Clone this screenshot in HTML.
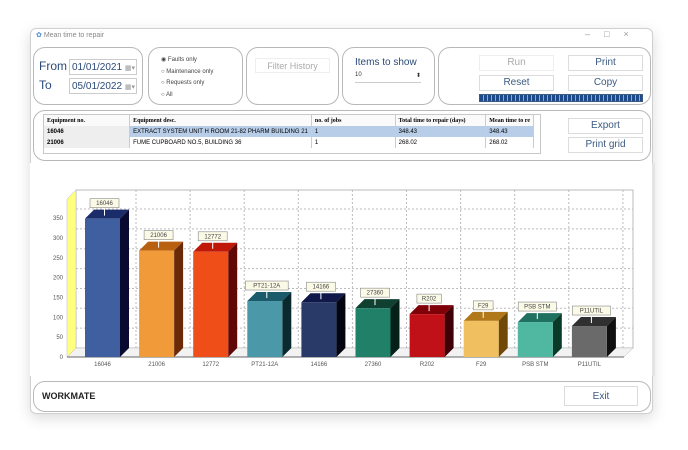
<!DOCTYPE html>
<html><head><meta charset="utf-8"><style>
body{margin:0;width:688px;height:450px;background:#fff;position:relative;overflow:hidden;font-family:"Liberation Sans",sans-serif;}
.abs{position:absolute;box-sizing:border-box;}
.win{left:30px;top:28px;width:623px;height:386px;border:1px solid #d0d0d0;border-radius:6px;background:#fff;box-shadow:0 4px 14px rgba(0,0,0,0.15);}
.panel{border:1px solid #b8b8b8;border-radius:12px;background:#fff;}
.btn{border:1px solid #dcdcdc;background:#fff;color:#3a5a80;font-size:10px;text-align:center;line-height:14px;}
.lbl{color:#2a4a78;}
.tbl td{font-size:6px;padding:0 3px;height:11px;border-right:1px solid #ccc;white-space:nowrap;overflow:hidden;}
</style></head><body>
<div class="abs win"></div>
<div class="abs" style="left:36px;top:31px;font-size:7px;color:#888"><span style="color:#4a8ad0">✿</span> Mean time to repair</div>
<div class="abs" style="left:585px;top:29px;font-size:9px;color:#999;letter-spacing:14px">–□×</div>

<div class="abs panel" style="left:33px;top:47px;width:110px;height:58px"></div>
<div class="abs lbl" style="left:39px;top:59px;font-size:12px">From</div>
<div class="abs lbl" style="left:39px;top:78px;font-size:12px">To</div>
<div class="abs" style="left:69px;top:59px;width:68px;height:16px;border:1px solid #ccc;font-size:10px;color:#2a4a78;padding:2px 0 0 2px">01/01/2021 <span style="color:#999;font-size:7px">▦▾</span></div>
<div class="abs" style="left:69px;top:78px;width:68px;height:16px;border:1px solid #ccc;font-size:10px;color:#2a4a78;padding:2px 0 0 2px">05/01/2022 <span style="color:#999;font-size:7px">▦▾</span></div>

<div class="abs panel" style="left:148px;top:47px;width:95px;height:58px"></div>
<div class="abs" style="left:161px;top:55px;font-size:6px;color:#444;line-height:11.5px">◉ Faults only<br>○ Maintenance only<br>○ Requests only<br>○ All</div>

<div class="abs panel" style="left:246px;top:47px;width:93px;height:58px"></div>
<div class="abs" style="left:255px;top:58px;width:75px;height:15px;border:1px solid #eee;font-size:9px;color:#aaa;text-align:center;line-height:15px">Filter History</div>

<div class="abs panel" style="left:342px;top:47px;width:93px;height:58px"></div>
<div class="abs lbl" style="left:355px;top:57px;font-size:10px">Items to show</div>
<div class="abs" style="left:355px;top:72px;width:66px;height:11px;border-bottom:1px solid #ccc;font-size:6px;color:#333">10<span style="float:right">⬍</span></div>

<div class="abs panel" style="left:438px;top:47px;width:213px;height:58px"></div>
<div class="abs btn" style="left:479px;top:55px;width:75px;height:16px;color:#aaa;border-color:#eee">Run</div>
<div class="abs btn" style="left:568px;top:55px;width:75px;height:16px">Print</div>
<div class="abs btn" style="left:479px;top:75px;width:75px;height:16px">Reset</div>
<div class="abs btn" style="left:568px;top:75px;width:75px;height:16px">Copy</div>
<div class="abs" style="left:479px;top:94px;width:164px;height:8px;border:1px solid #3a5a80;background:repeating-linear-gradient(90deg,#1f4a8a 0 3px,#8aa8d0 3px 4px)"></div>

<div class="abs panel" style="left:33px;top:110px;width:618px;height:51px"></div>
<div class="abs" style="left:43px;top:114px;width:498px;height:40px;border:1px solid #c8c8c8;overflow:hidden">
<table class="tbl" cellspacing="0" cellpadding="0" style="border-collapse:collapse;width:490px">
<tr style="font-weight:bold;background:#fafafa"><td style="width:85px;font-family:'Liberation Serif',serif">Equipment no.</td><td style="width:158px;font-family:'Liberation Serif',serif">Equipment desc.</td><td style="width:84px;font-family:'Liberation Serif',serif">no. of jobs</td><td style="width:86px;font-family:'Liberation Serif',serif">Total time to repair (days)</td><td style="font-family:'Liberation Serif',serif">Mean time to re</td></tr>
<tr style="background:#b8cde8"><td style="font-weight:bold;background:#eee">16046</td><td>EXTRACT SYSTEM UNIT H ROOM 21-82 PHARM BUILDING 21</td><td>1</td><td>348.43</td><td>348.43</td></tr>
<tr><td style="font-weight:bold;background:#eee">21006</td><td>FUME CUPBOARD NO.5, BUILDING 36</td><td>1</td><td>268.02</td><td>268.02</td></tr>
</table></div>
<div class="abs btn" style="left:568px;top:118px;width:75px;height:16px">Export</div>
<div class="abs btn" style="left:568px;top:137px;width:75px;height:16px">Print grid</div>

<svg class="abs" style="left:0;top:0" width="688" height="450" id="chart"></svg>

<div class="abs panel" style="left:33px;top:381px;width:618px;height:31px"></div>
<div class="abs" style="left:42px;top:391px;font-size:9px;font-weight:bold;color:#222">WORKMATE</div>
<div class="abs btn" style="left:564px;top:386px;width:74px;height:20px;line-height:20px">Exit</div>

<script>
const categories=["16046","21006","12772","PT21-12A","14166","27360","R202","F29","PSB STM","P11UTIL"];
const values=[348.43,268.02,265,141,138,123,108,91,88,78];
const yTicks=[0,50,100,150,200,250,300,350];
const front=["#3f5fa0","#f09a3a","#f04e18","#4a98a8","#2a3a68","#208068","#c01018","#f0c060","#50b8a0","#6a6a6a"];
const topc=["#1a2c6a","#b86010","#c01808","#1a5a6a","#10184a","#104030","#800008","#b07818","#207060","#303030"];
const side=["#0a0a30","#6a2a08","#600808","#0a2a30","#050510","#052018","#400008","#704808","#0a3a28","#101010"];
const NS="http://www.w3.org/2000/svg";
const svg=document.getElementById('chart');
const base=357,scale=0.397,dx=9,dy=9,x0=85,step=54.1,bw=35;
const yS=v=>base-v*scale;
const xS=i=>x0+i*step;
function mk(t,a,p){const e=document.createElementNS(NS,t);for(const k in a)e.setAttribute(k,a[k]);(p||svg).appendChild(e);return e;}
let e;
e=mk('rect',{x:30,y:163,width:622,height:213,fill:'#fff'});

e=mk('rect',{x:652,y:163,width:3,height:213,fill:'#e4e4e4'});

// back wall
e=mk('rect',{x:67+dx,y:190,width:557,height:base-dy-190,fill:'#fff',stroke:'#bbb'});

e=mk('polygon',{points:`67,${base} ${67+dx},${base-dy} ${67+dx},190 67,199`,fill:'#ffff80',stroke:'#bbb','stroke-width':0.5});

e=mk('polygon',{points:`67,${base} ${67+dx},${base-dy} ${633},${base-dy} ${624},${base}`,fill:'#f2f2f2',stroke:'#bbb','stroke-width':0.5});

yTicks.forEach(t=>{const y=yS(t)-dy;
 if(t>0){e=mk('line',{x1:67+dx,x2:633,y1:y,y2:y,stroke:'#bbb','stroke-dasharray':'2,2'});
 }
 e=mk('text',{x:63,y:yS(t)+2,'font-size':6,fill:'#555','text-anchor':'end'});e.textContent=t;
 });
for(let i=0;i<=categories.length;i++){const x=x0-2+i*step+bw+dx+9;
 if(x<630){e=mk('line',{x1:x,x2:x,y1:190,y2:base-dy,stroke:'#bbb','stroke-dasharray':'2,2'});
 }}
e=mk('line',{x1:67,x2:624,y1:base,y2:base,stroke:'#666'});

categories.forEach((c,i)=>{const x=xS(i),y=yS(values[i]);
 const g=mk('g',{});
 
 
 mk('polygon',{points:`${x},${y} ${x+dx},${y-dy} ${x+bw+dx},${y-dy} ${x+bw},${y}`,fill:topc[i]},g);
 mk('polygon',{points:`${x+bw},${y} ${x+bw+dx},${y-dy} ${x+bw+dx},${base-dy} ${x+bw},${base}`,fill:side[i]},g);
 mk('rect',{x:x,y:y,width:bw,height:base-y,fill:front[i]},g);
 const cx=x+bw/2+2;
 mk('line',{x1:cx,x2:cx,y1:y-12,y2:y-3,stroke:'#fff','stroke-width':1},g);
 const w=c.length*4.6+6;
 const lb=mk('rect',{x:cx-w/2,y:y-20,width:w,height:9,fill:'#fafae6',stroke:'#888','stroke-width':0.6});
 
 e=mk('text',{x:cx,y:y-13.5,'font-size':6,fill:'#444','text-anchor':'middle'});e.textContent=c;
 
 e=mk('text',{x:x+bw/2,y:base+9,'font-size':6,fill:'#555','text-anchor':'middle'});e.textContent=c;
 
});
</script>
</body></html>
